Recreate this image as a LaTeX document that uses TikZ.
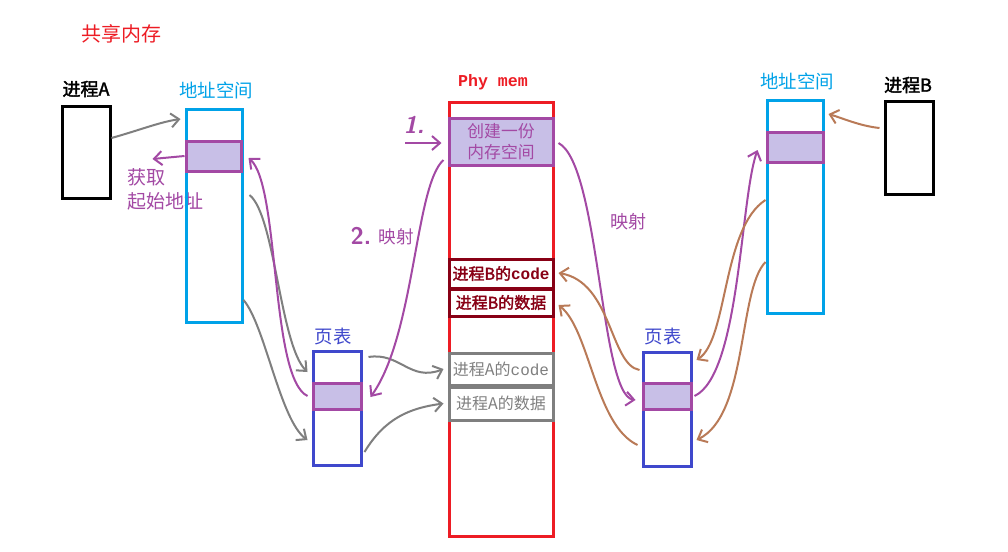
\documentclass[tikz,border=0pt]{standalone}
\usepackage{fontspec}
\newfontfamily\cjk{Noto Sans CJK SC}[AutoFakeBold=2]
\newfontfamily\monof{Liberation Mono}
\usetikzlibrary{fit,arrows.meta}
\definecolor{cred}{HTML}{ED1C24}
\definecolor{ccyan}{HTML}{00A2E8}
\definecolor{cpurple}{HTML}{A349A4}
\definecolor{clav}{HTML}{C8BFE7}
\definecolor{cdred}{HTML}{880015}
\definecolor{cgray}{HTML}{7F7F7F}
\definecolor{cblue}{HTML}{3F48CC}
\definecolor{cbrown}{HTML}{B97A57}
\tikzset{
  box/.style={draw, line width=1.5pt, inner sep=0pt},
  blk/.style={draw=cpurple, fill=clav, line width=1.5pt, inner sep=0pt},
  conn/.style={line width=1pt, -{Straight Barb[length=4pt,width=7pt]}},
  lbl/.style={inner sep=0pt},
  fs/.style={font=\cjk\fontsize{#1}{#1}\selectfont},
  fsb/.style={font=\cjk\bfseries\fontsize{#1}{#1}\selectfont}
}
\begin{document}
\begin{tikzpicture}[x=0.5pt,y=-0.5pt]
\useasboundingbox (0,0) rectangle (1008,552);
\fill[white] (0,0) rectangle (1008,552);

% titles and labels
\node[lbl, fs=10, text=cred] (title) at (122,34) {共享内存};
\node[lbl, fsb=9, text=black] (lpa) at (86,89) {进程A};
\node[lbl, fs=9.2, text=ccyan] (laA) at (216,90) {地址空间};
\node[lbl, anchor=west, align=left, text=cpurple, font=\cjk\fontsize{9.5}{12}\selectfont] (lget) at (127,189) {获取\\起始地址};
\node[lbl, text=cred, font=\monof\bfseries\fontsize{8.3}{9}\selectfont] (lpm) at (493,82) {Phy mem};
\node[lbl, text=cpurple, font=\sffamily\bfseries\itshape\fontsize{12}{12}\selectfont] (l1) at (414,125) {1.};
\node[lbl, text=cpurple, font=\sffamily\bfseries\fontsize{12}{12}\selectfont] (l2) at (361,236) {2.};
\node[lbl, fs=8.8, text=cpurple] (lmap1) at (396,237) {映射};
\node[lbl, fs=9, text=cpurple] (lmap2) at (628,222) {映射};
\node[lbl, fs=9.2, text=cblue] (lptA) at (333,337) {页表};
\node[lbl, fs=9.2, text=cblue] (lptB) at (663,337) {页表};
\node[lbl, fs=9.2, text=ccyan] (laB) at (797,81) {地址空间};
\node[lbl, fsb=9, text=black] (lpb) at (908,85) {进程B};

% process A side
\node[box, draw=black, fit={(62,106)(110,198)}] (pa) {};
\node[box, draw=ccyan, fit={(186,109)(242,322)}] (aA) {};
\node[blk, fit={(186,141)(241,171)}] (bA) {};
\node[box, draw=cblue, fit={(313,351)(361,465)}] (ptA) {};
\node[blk, fit={(313,383)(361,409)}] (pbA) {};

% physical memory
\node[box, draw=cred, fit={(449,102)(553,536)}] (pm) {};
\node[blk, fit={(449,118)(553,165)}] (pmb) {};
\node[lbl, text=cpurple, align=center, font=\cjk\fontsize{8.4}{10.5}\selectfont] (tpmb) at (pmb) {创建一份\\内存空间};
\node[box, draw=cdred, fit={(449,259)(553,288)}] (pBc) {};
\node[box, draw=cdred, fit={(449,289)(553,316)}] (pBd) {};
\node[box, draw=cgray, fit={(449,353)(553,385)}] (pAc) {};
\node[box, draw=cgray, fit={(449,387)(553,420)}] (pAd) {};
\node[lbl, text=cdred, fsb=8] (tBc) at (pBc) {进程B的{\monof\bfseries code}};
\node[lbl, text=cdred, fsb=8] (tBd) at (pBd) {进程B的数据};
\node[lbl, text=cgray, fs=8] (tAc) at (pAc) {进程A的{\monof code}};
\node[lbl, text=cgray, fs=8] (tAd) at (pAd) {进程A的数据};

% process B side
\node[box, draw=black, fit={(885,101)(933,194)}] (pb) {};
\node[box, draw=ccyan, fit={(767,100)(823,313)}] (aB) {};
\node[blk, fit={(767,132)(823,162)}] (bB) {};
\node[box, draw=cblue, fit={(643,352)(691,466)}] (ptB) {};
\node[blk, fit={(643,383)(691,409)}] (pbB) {};

% gray connectors (process A)
\draw[conn, cgray] (pa.east |- 0,138) .. controls (140,130) and (160,122) .. ([xshift=-2pt]aA.west |- 0,119);
\draw[conn, cgray] ([xshift=3pt]aA.east |- 0,195) .. controls (275,215) and (280,345) .. ([xshift=-2pt]ptA.west |- 0,372);
\draw[conn, cgray] (aA.east |- 0,300) .. controls (265,325) and (280,420) .. ([xshift=-2pt]ptA.west |- 0,440);
\draw[conn, cgray] ([xshift=3pt]ptA.east |- 0,357) .. controls (400,352) and (410,382) .. ([xshift=-2pt]pAc.west);
\draw[conn, cgray] ([xshift=1pt]ptA.east |- 0,452) .. controls (385,418) and (410,408) .. ([xshift=-2pt]pAd.west);

% purple connectors
\draw[conn, cpurple] (bA.west) -- ++(-32,3);
\draw[conn, cpurple] (405,143) -- ([xshift=-3pt]pmb.west |- 0,143);
\draw[conn, cpurple] ([xshift=-2pt]pbA.west) .. controls (270,378) and (280,185) .. ([xshift=3pt]bA.east |- 0,158);
\draw[conn, cpurple] ([xshift=-2pt]pmb.west |- 0,160) .. controls (415,185) and (415,335) .. ([xshift=4pt]pbA.east |- 0,397);
\draw[conn, cpurple] ([xshift=2pt]pmb.east |- 0,143) .. controls (600,165) and (600,395) .. ([xshift=-3pt]pbB.west |- 0,400);
\draw[conn, cpurple] ([xshift=1pt]pbB.east |- 0,396) .. controls (740,375) and (740,200) .. ([xshift=-4pt]bB.west |- 0,150);

% brown connectors (process B)
\draw[conn, cbrown] ([xshift=-2pt]pb.west |- 0,128) .. controls (860,126) and (842,118) .. ([xshift=2pt]aB.east |- 0,114);
\draw[conn, cbrown] (aB.west |- 0,200) .. controls (722,228) and (728,340) .. ([xshift=2pt]ptB.east |- 0,360);
\draw[conn, cbrown] (aB.west |- 0,262) .. controls (738,290) and (748,415) .. ([xshift=2pt]ptB.east |- 0,440);
\draw[conn, cbrown] ([xshift=-1pt]ptB.west |- 0,370) .. controls (610,365) and (612,282) .. ([xshift=2pt]pBc.east |- 0,273);
\draw[conn, cbrown] ([xshift=-2pt]ptB.west |- 0,445) .. controls (595,425) and (590,330) .. ([xshift=2pt]pBd.east |- 0,305);
\end{tikzpicture}
\end{document}
